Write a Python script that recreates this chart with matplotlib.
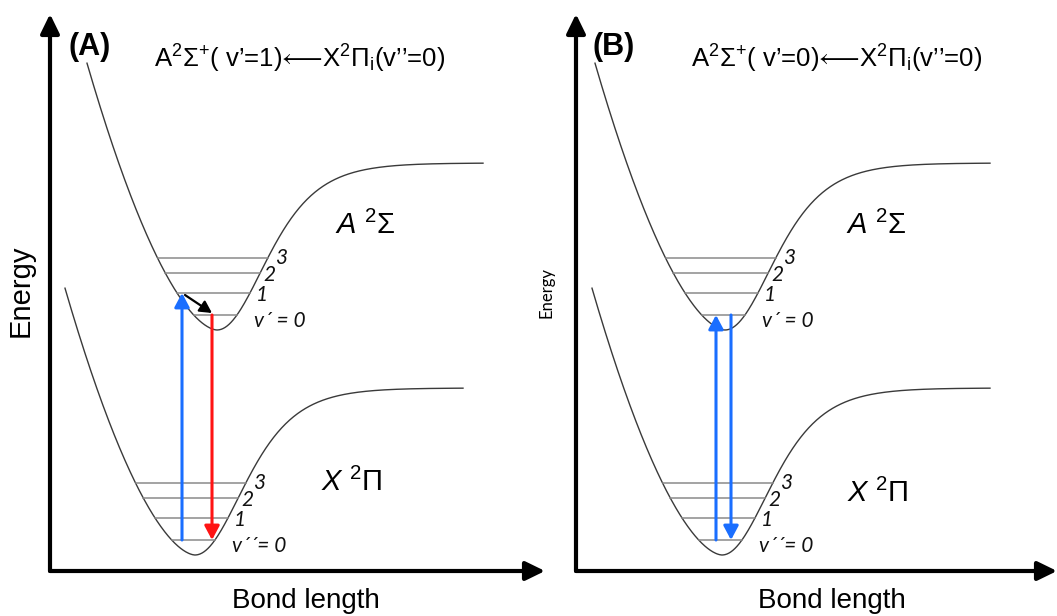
import numpy as np
import matplotlib
matplotlib.use('Agg')
import matplotlib.pyplot as plt

plt.rcParams['font.family'] = ['Liberation Sans', 'DejaVu Sans']
plt.rcParams['mathtext.fontset'] = 'custom'
plt.rcParams['mathtext.rm'] = 'Liberation Sans'
plt.rcParams['mathtext.it'] = 'Liberation Sans:italic'
plt.rcParams['mathtext.bf'] = 'Liberation Sans:bold'
plt.rcParams['mathtext.fallback'] = 'stix'

# shape of the potential wells (arbitrary units, same for both states)
well_depth = 167
outer_k = 0.0155      # attractive side, tanh^2 rise to the dissociation limit
inner_c = 0.0768      # repulsive side, c*|dr|^p
inner_p = 1.675
inner_reach = 130

# vibrational levels v = 0..3 above the bottom of each well
vib_levels = [15, 37, 57, 72]
upper_names = ['v\u00b4 = 0', '1', '2', '3']
lower_names = ['v\u00b4\u00b4= 0', '1', '2', '3']

# equilibrium bond length, well bottom, end of drawn curve
a_upper = dict(re=167, te=241, r_end=433)
a_lower = dict(re=145, te=16, r_end=413)
b_upper = dict(re=149, te=241, r_end=414)
b_lower = dict(re=146, te=16, r_end=414)

# (bond length, start state, start v, end state, end v, colour)
a_arrows = [(132, 'X', 0, 'A', 1, '#1a6eff'),
            (162, 'A', 0, 'X', 0, '#ff1414')]
b_arrows = [(140, 'X', 0, 'A', 0, '#1a6eff'),
            (155, 'A', 0, 'X', 0, '#1a6eff')]
a_relax = (135, 162)  # v'=1 -> v'=0 inside the A state

# arrow char inside $...$ so it comes from the stix fallback without relation spacing
titles = [r'A$^{2}\Sigma^{+}$( v’=1)$⟵$X$^{2}\Pi_{\mathrm{i}}$(v’’=0)',
          r'A$^{2}\Sigma^{+}$( v’=0)$⟵$X$^{2}\Pi_{\mathrm{i}}$(v’’=0)']


def potential(r, re, te):
    dr = r - re
    outer = well_depth * np.tanh(outer_k * dr) ** 2
    inner = inner_c * np.abs(dr) ** inner_p
    return te + np.where(dr >= 0, outer, inner)


def turning_points(e, re):
    left = re - (e / inner_c) ** (1 / inner_p)
    right = re + np.arctanh(np.sqrt(e / well_depth)) / outer_k
    return left, right


def draw_state(ax, st, names):
    r = np.linspace(st['re'] - inner_reach, st['r_end'], 600)
    ax.plot(r, potential(r, st['re'], st['te']), color='#3a3a3a', lw=1.0,
            clip_on=False)
    dx = [17, 12, 9, 13]
    dy = [-6, -2, -2, 0]
    for i, e in enumerate(vib_levels):
        r0, r1 = turning_points(e, st['re'])
        ax.plot([r0, r1], [st['te'] + e] * 2, color='#8a8a8a', lw=1.1)
        ha = 'left' if i == 0 else 'center'
        ax.text(r1 + dx[i], st['te'] + e + dy[i], names[i], ha=ha,
                va='center', fontsize=15, style='italic',
                family=['Lato', 'DejaVu Sans'], color='#111111')


def arrow(ax, p0, p1, color, lw=2.2, scale=14):
    ax.annotate('', xy=p1, xytext=p0,
                arrowprops=dict(arrowstyle='-|>,head_length=0.6,head_width=0.32',
                                color=color, lw=lw, mutation_scale=scale,
                                shrinkA=0, shrinkB=0))


fig = plt.figure(figsize=(10.57, 6.16), dpi=100)
H = 557
panels = [(50, 495, a_upper, a_lower, a_arrows, '(A)', 0),
          (576, 481, b_upper, b_lower, b_arrows, '(B)', 1)]

for x0, w, up, low, arrows, tag, k in panels:
    ax = fig.add_axes([x0 / 1057, 45 / 616, w / 1057, H / 616])
    ax.set_xlim(0, w)
    ax.set_ylim(0, H)
    ax.axis('off')

    # energy and bond-length axes
    for tip in [(0, H), (w, 0)]:
        ax.annotate('', xy=tip, xytext=(0, 0),
                    arrowprops=dict(arrowstyle='-|>,head_length=0.45,head_width=0.22',
                                    color='black', lw=3, mutation_scale=26,
                                    shrinkA=0, shrinkB=0))

    draw_state(ax, up, upper_names)
    draw_state(ax, low, lower_names)

    states = {'A': up, 'X': low}
    for r, s0, v0, s1, v1, c in arrows:
        e0 = states[s0]['te'] + vib_levels[v0]
        e1 = states[s1]['te'] + vib_levels[v1]
        arrow(ax, (r, e0), (r, e1), c)

    if k == 0:
        e1 = up['te'] + vib_levels[1] - 2
        e0 = up['te'] + vib_levels[0] + 2
        arrow(ax, (a_relax[0], e1), (a_relax[1], e0), 'black', lw=1.6, scale=12)

    ax.text(18 if k == 0 else 16, 524, tag, fontsize=22, fontweight='bold',
            ha='left', va='center')
    ax.text(250 if k == 0 else 261, 512, titles[k], fontsize=18.5, ha='center',
            va='center')

    ax.text(315 if k == 0 else 300, 346, r'$\mathit{A}\ {}^{2}\Sigma$',
            fontsize=21, ha='center', va='center')
    ax.text(302, 89 if k == 0 else 78, r'$\mathit{X}\ {}^{2}\Pi$',
            fontsize=21, ha='center', va='center')

    if k == 0:
        ax.text(-29, 280, 'Energy', rotation=90, fontsize=21, ha='center',
                va='center')
    else:
        ax.text(-30, 279, 'Energy', rotation=90, fontsize=12, ha='center',
                va='center', family=['Lato', 'DejaVu Sans'])
    ax.text(256, -30, 'Bond length', fontsize=20, ha='center', va='center')

fig.savefig('out.png', dpi=100)
